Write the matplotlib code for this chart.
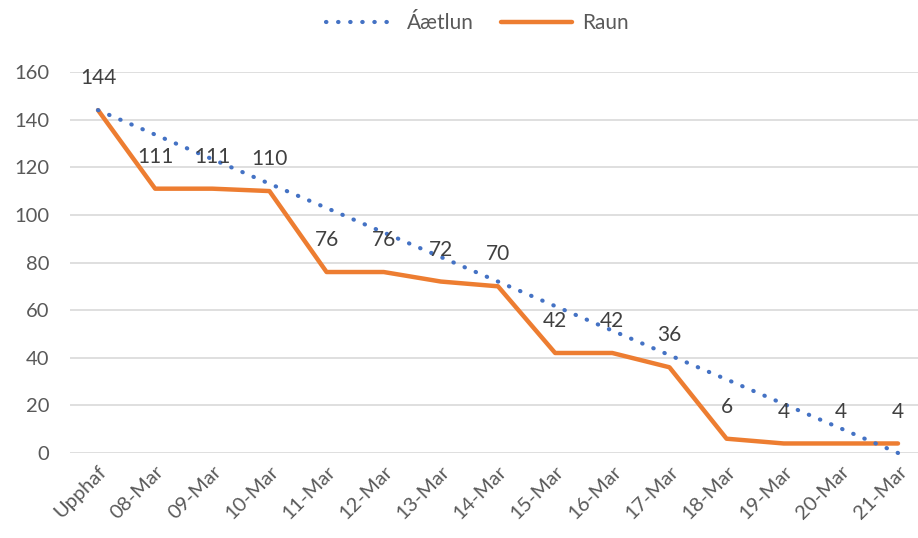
import matplotlib.pyplot as plt

# categories and values
dagar = ['Upphaf', '08-Mar', '09-Mar', '10-Mar', '11-Mar', '12-Mar', '13-Mar',
         '14-Mar', '15-Mar', '16-Mar', '17-Mar', '18-Mar', '19-Mar', '20-Mar', '21-Mar']
aaetlun = [144, 133.7, 123.4, 113.1, 102.9, 92.6, 82.3, 72, 61.7, 51.4, 41.1, 30.9, 20.6, 10.3, 0]
raun = [144, 111, 111, 110, 76, 76, 72, 70, 42, 42, 36, 6, 4, 4, 4]
y_ticks = [0, 20, 40, 60, 80, 100, 120, 140, 160]

plt.rcParams['font.family'] = ['Lato', 'DejaVu Sans']

fig = plt.figure(figsize=(9.18, 5.38), dpi=100)
ax = fig.add_axes([70/918, 1-453/538, 848/918, 381/538])

x = list(range(len(dagar)))
ax.plot(x, aaetlun, color='#4472C4', linewidth=3, linestyle=(0, (0.1, 2.8)),
        dash_capstyle='round', label='Áætlun', zorder=3, clip_on=False)
ax.plot(x, raun, color='#ED7D31', linewidth=3.2, solid_capstyle='round',
        label='Raun', zorder=2)

for xi, v in zip(x, raun):
    ax.annotate(str(v), (xi, v), xytext=(0, 23), textcoords='offset points',
                ha='center', va='center', fontsize=15, color='#404040')

ax.set_xlim(-0.49, 14.35)
ax.set_ylim(0, 160)
ax.set_yticks(y_ticks)
ax.set_xticks(x)
ax.set_xticklabels(dagar, rotation=45, ha='right', rotation_mode='anchor')
ax.tick_params(axis='both', length=0, labelsize=14.5, colors='#595959')
ax.tick_params(axis='y', pad=15)
ax.tick_params(axis='x', pad=7)
ax.grid(axis='y', color='#D9D9D9', linewidth=1.2)
ax.set_axisbelow(True)
for s in ax.spines.values():
    s.set_visible(False)

fig.legend(loc='upper center', bbox_to_anchor=(0.52, 1.01), ncol=2, frameon=False,
           fontsize=15, labelcolor='#595959', handlelength=3.4, handletextpad=0.5,
           columnspacing=1.3)

fig.savefig('out.png', dpi=100)
